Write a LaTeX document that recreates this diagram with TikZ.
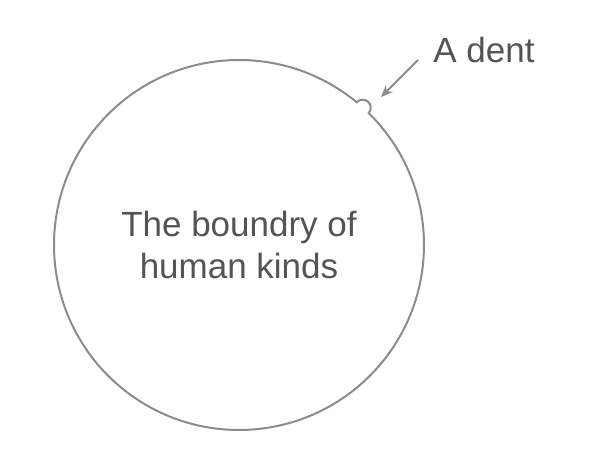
\documentclass[tikz,border=0pt]{standalone}
\usepackage{fontspec}
\setmainfont{Liberation Sans}
\usetikzlibrary{arrows.meta,positioning,calc}
\definecolor{linegray}{rgb}{0.55, 0.55, 0.55}
\definecolor{textgray}{rgb}{0.33, 0.33, 0.33}

\begin{document}
\begin{tikzpicture}[x=1pt,y=1pt,
    label text/.style={text=textgray, font=\fontsize{35}{42}\selectfont, align=center, inner sep=0pt}]

        \useasboundingbox (0,0) rectangle (600,454);

            \coordinate (c) at (239,209) ;
            \def\bigr{185}
            \def\dentang{48}

            \draw[linegray, line width=2pt]
                ($(c)+(\dentang+2.5:\bigr)$) arc[start angle=\dentang+2.5, end angle=\dentang-2.5+360, radius=\bigr]
                arc[start angle=\dentang-90, end angle=\dentang+90, radius=8] -- cycle;

            \node[label text] (inside) at (c) {The boundry of\\human kinds} ;
            \node[label text] (dent) at (484,404) {A dent} ;

            \coordinate (tail) at (418,394) ;
            \coordinate (tip) at (381,357) ;
            \draw[linegray, line width=2pt, -{Stealth[length=12pt,width=10pt]}] (tail) -- (tip) ;

\end{tikzpicture}
\end{document}
